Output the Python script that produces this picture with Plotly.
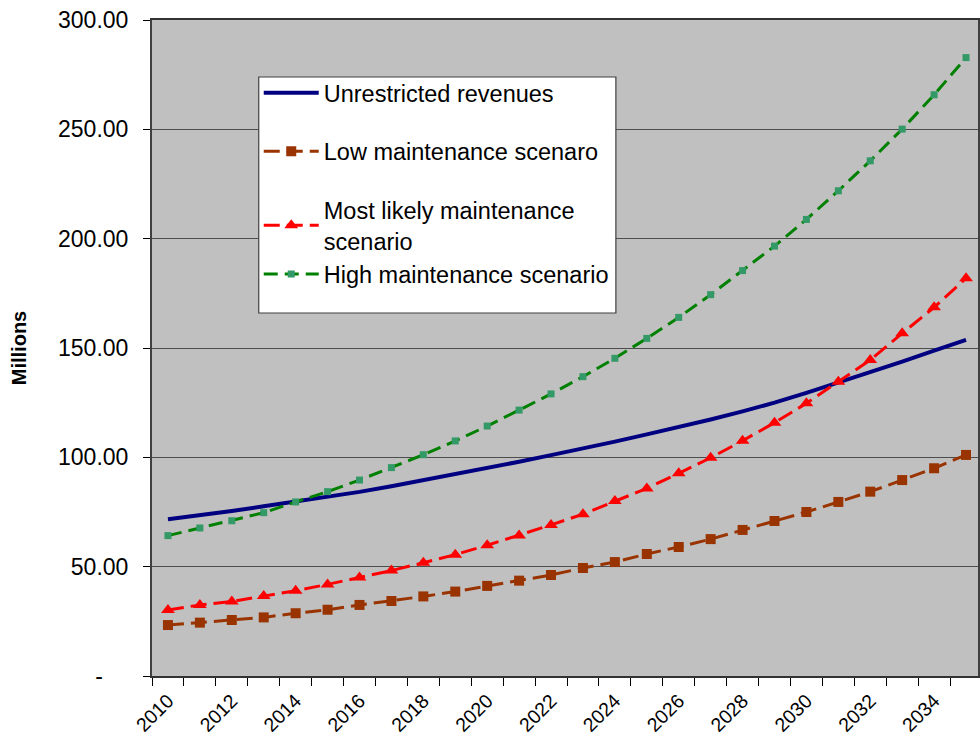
import plotly.graph_objects as go

years = list(range(2010, 2036))

unrestricted = [71.7, 73.5, 75.5, 77.6, 79.8, 81.9, 84.2, 86.8, 89.5, 92.3,
                95.2, 98.0, 101.0, 104.0, 107.2, 110.5, 113.8, 117.3, 121.0, 125.0,
                129.5, 134.2, 138.8, 143.8, 148.8, 153.7]
low = [23.3, 24.4, 25.6, 26.8, 28.7, 30.3, 32.5, 34.3, 36.4, 38.6,
       41.2, 43.6, 46.2, 49.4, 52.1, 55.8, 59.0, 62.6, 66.8, 70.9,
       75.0, 79.6, 84.3, 89.6, 95.0, 101.1]
likely = [30.2, 32.5, 34.1, 36.6, 39.0, 41.9, 45.0, 48.2, 51.8, 55.5,
          59.8, 64.3, 69.1, 74.0, 80.0, 85.8, 92.7, 99.8, 107.6, 115.8,
          124.7, 134.6, 144.5, 156.7, 168.6, 181.9]
high = [64.2, 67.7, 71.0, 74.7, 79.6, 84.3, 89.6, 95.3, 101.2, 107.5,
        114.3, 121.6, 129.0, 136.9, 145.3, 154.4, 164.0, 174.4, 185.4, 196.6,
        208.8, 221.9, 235.6, 250.1, 265.8, 282.8]

series_names = ["Unrestricted revenues", "Low maintenance scenaro",
                "Most likely maintenance<br>scenario", "High maintenance scenario"]

y_tickvals = [0, 50, 100, 150, 200, 250, 300]
y_ticktext = ["-\u00a0\u00a0\u00a0\u00a0", "50.00", "100.00", "150.00", "200.00", "250.00", "300.00"]
x_tickvals = list(range(2010, 2035, 2))
x_ticktext = [str(v) for v in x_tickvals]

FONT = "Liberation Sans, Arial, sans-serif"

# plot area in pixels
PL, PR, PT, PB = 152, 980, 20, 676
PW, PH = PR - PL, PB - PT


def px(x):
    return (x - PL) / PW


def py(y):
    return (PB - y) / PH


fig = go.Figure()
fig.add_trace(go.Scatter(x=years, y=unrestricted, name=series_names[0], mode="lines",
                         line=dict(color="#000080", width=4), legendgroup="a"))
fig.add_trace(go.Scatter(x=years, y=low, name=series_names[1], mode="lines+markers",
                         line=dict(color="#993300", width=3, dash="16px,7px"),
                         marker=dict(symbol="square", size=10, color="#993300"), legendgroup="b"))
fig.add_trace(go.Scatter(x=years, y=likely, name=series_names[2], mode="lines+markers",
                         line=dict(color="#FF0000", width=3, dash="16px,7px"),
                         marker=dict(symbol="triangle-up", size=12, color="#FF0000"), legendgroup="c"))
fig.add_trace(go.Scatter(x=years, y=high, name=series_names[3], mode="lines+markers",
                         line=dict(color="#008000", width=3, dash="14px,7px"),
                         marker=dict(symbol="square", size=7, color="#339966"), legendgroup="c"))

# legend frame
fig.add_shape(type="rect", xref="paper", yref="paper",
              x0=px(259), x1=px(617), y0=py(313), y1=py(77),
              fillcolor="white", line=dict(color="#404040", width=1.2), layer="above")

fig.update_layout(
    width=980, height=740,
    margin=dict(l=PL, r=980 - PR, t=PT, b=740 - PB),
    paper_bgcolor="white", plot_bgcolor="#C0C0C0",
    font=dict(family=FONT, color="black"),
    showlegend=True,
    legend=dict(x=px(259), y=py(71), xanchor="left", yanchor="top",
                bgcolor="rgba(0,0,0,0)", borderwidth=0,
                font=dict(size=23.5, family=FONT), tracegroupgap=25,
                itemwidth=55, traceorder="grouped"),
    xaxis=dict(range=[2009.5, 2035.375], tickvals=x_tickvals, ticktext=x_ticktext,
               tickangle=-45, ticks="", showgrid=False, zeroline=False,
               tickfont=dict(size=19.5, family=FONT), ticklabeloverflow="allow",
               ticklabelstandoff=4,
               showline=True, linecolor="#333333", linewidth=1.5, mirror=True,
               minor=dict(tickvals=[2009.5 + i for i in range(27)], ticks="outside",
                          ticklen=8, tickcolor="black", tickwidth=1, showgrid=False)),
    yaxis=dict(range=[0, 300], tickvals=y_tickvals, ticktext=y_ticktext,
               ticks="outside", ticklen=7, tickcolor="black", ticklabelstandoff=10,
               ticklabeloverflow="allow",
               showgrid=True, gridcolor="#4d4d4d", gridwidth=1.2, zeroline=False,
               tickfont=dict(size=23, family=FONT),
               showline=True, linecolor="#404040", linewidth=2, mirror=True,
               title=dict(text="<b>Millions</b>", font=dict(size=20, family=FONT), standoff=26)),
)

fig.write_html("out.html", config={"displayModeBar": False},
               post_script="document.body.style.margin='0';document.body.style.overflow='hidden';")
